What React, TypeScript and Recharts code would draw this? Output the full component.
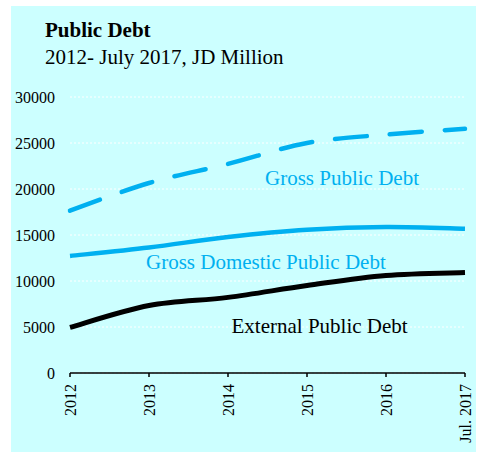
import React from "react";
import { LineChart, Line, XAxis, YAxis, CartesianGrid } from "recharts";

const categories = ["2012", "2013", "2014", "2015", "2016", "Jul. 2017"];
const grossPublicDebt = [17650, 20650, 22730, 25000, 25920, 26540];
const grossDomesticDebt = [12720, 13650, 14780, 15570, 15870, 15680];
const externalDebt = [4950, 7330, 8220, 9510, 10600, 10920];
const yTicks = [0, 5000, 10000, 15000, 20000, 25000, 30000];

const data = categories.map((c, i) => ({
  year: c,
  gross: grossPublicDebt[i],
  domestic: grossDomesticDebt[i],
  external: externalDebt[i],
}));

const FONT = '"Liberation Serif", "Times New Roman", serif';
const BLUE = "#00B0F0";

// Catmull-Rom style smoothing similar to spreadsheet "smoothed line"
const smoothCurve: any = (context: any) => {
  let pts: [number, number][] = [];
  return {
    areaStart() {},
    areaEnd() {},
    lineStart() {
      pts = [];
    },
    point(x: number, y: number) {
      pts.push([+x, +y]);
    },
    lineEnd() {
      if (pts.length === 0) return;
      context.moveTo(pts[0][0], pts[0][1]);
      if (pts.length === 1) return;
      const t = 1 / 6;
      for (let i = 0; i < pts.length - 1; i++) {
        const p0 = pts[i - 1] || pts[i];
        const p1 = pts[i];
        const p2 = pts[i + 1];
        const p3 = pts[i + 2] || pts[i + 1];
        const c1x = p1[0] + (p2[0] - p0[0]) * t;
        const c1y = p1[1] + (p2[1] - p0[1]) * t;
        const c2x = p2[0] - (p3[0] - p1[0]) * t;
        const c2y = p2[1] - (p3[1] - p1[1]) * t;
        context.bezierCurveTo(c1x, c1y, c2x, c2y, p2[0], p2[1]);
      }
    },
  };
};

const XTick = (props: any) => {
  const { x, y, payload } = props;
  return (
    <g transform={`translate(${x},${y})`}>
      <text
        x={0}
        y={0}
        dy="0.35em"
        textAnchor="end"
        transform="rotate(-90)"
        fill="#000"
        fontSize={16}
        fontFamily={FONT}
      >
        {payload.value}
      </text>
    </g>
  );
};

const YTick = (props: any) => {
  const { x, y, payload } = props;
  return (
    <text
      x={x}
      y={y}
      dy="0.35em"
      textAnchor="end"
      fill="#000"
      fontSize={16}
      fontFamily={FONT}
    >
      {payload.value}
    </text>
  );
};

export default function App() {
  return (
    <div style={{ position: "absolute", left: 0, top: 0, width: 478, height: 452 }}>
      <div
        style={{
          position: "absolute",
          left: 11,
          top: 6,
          width: 465,
          height: 446,
          background: "#CCFFFF",
        }}
      />
      <div style={{ position: "absolute", left: 0, top: 0 }}>
        <LineChart
          width={478}
          height={452}
          data={data}
          margin={{ top: 97, right: 13, bottom: 10, left: 10 }}
        >
          <CartesianGrid
            horizontal={true}
            vertical={false}
            stroke="#FFFFFF"
            strokeDasharray="2 2"
            strokeWidth={1}
          />
          <XAxis
            dataKey="year"
            height={69}
            interval={0}
            tickSize={4}
            tickMargin={7}
            axisLine={{ stroke: "#000", strokeWidth: 1.5 }}
            tickLine={{ stroke: "#000", strokeWidth: 1.5 }}
            tick={<XTick />}
          />
          <YAxis
            width={60}
            domain={[0, 30000]}
            ticks={yTicks}
            axisLine={false}
            tickLine={false}
            tickSize={0}
            tickMargin={15}
            tick={<YTick />}
          />
          <Line
            type={smoothCurve}
            dataKey="gross"
            stroke={BLUE}
            strokeWidth={4.5}
            strokeDasharray="32 23"
            strokeLinecap="round"
            dot={false}
            activeDot={false}
            isAnimationActive={false}
          />
          <Line
            type={smoothCurve}
            dataKey="domestic"
            stroke={BLUE}
            strokeWidth={4.5}
            dot={false}
            activeDot={false}
            isAnimationActive={false}
          />
          <Line
            type={smoothCurve}
            dataKey="external"
            stroke="#000"
            strokeWidth={5}
            dot={false}
            activeDot={false}
            isAnimationActive={false}
          />
        </LineChart>
      </div>
      <svg
        width={478}
        height={452}
        style={{ position: "absolute", left: 0, top: 0, pointerEvents: "none" }}
      >
        <text x={45} y={37} fontFamily={FONT} fontSize={21} fontWeight="bold" fill="#000">
          Public Debt
        </text>
        <text x={45} y={64} fontFamily={FONT} fontSize={21} fill="#000">
          2012- July 2017, JD Million
        </text>
        <text x={265} y={185} fontFamily={FONT} fontSize={21} fill={BLUE}>
          Gross Public Debt
        </text>
        <text x={146} y={269} fontFamily={FONT} fontSize={21} fill={BLUE}>
          Gross Domestic Public Debt
        </text>
        <text x={231.5} y={333} fontFamily={FONT} fontSize={21} fill="#000">
          External Public Debt
        </text>
      </svg>
    </div>
  );
}
